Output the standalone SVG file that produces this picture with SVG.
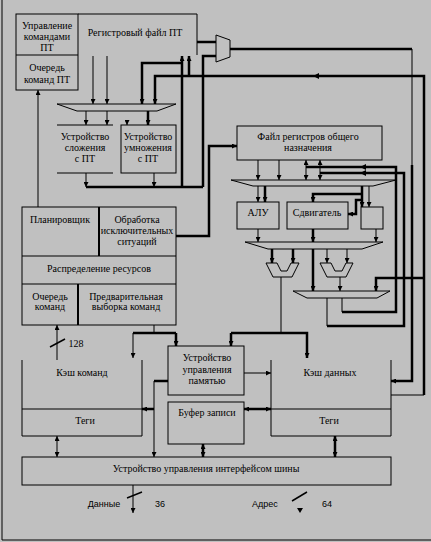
<svg xmlns="http://www.w3.org/2000/svg" width="431" height="542" viewBox="0 0 431 542">
<style>
.b{fill:none;stroke:#000;stroke-width:1}
.t{fill:none;stroke:#000;stroke-width:1}
.k{fill:none;stroke:#000;stroke-width:2.5}
.a{marker-end:url(#ah)}
.d{marker-start:url(#ah);marker-end:url(#ah)}
text{font-family:"Liberation Serif","Times New Roman",serif;font-size:10px;text-anchor:middle;fill:#000}
.s{font-size:9px;font-family:"Liberation Sans",Arial,sans-serif}
</style>
<defs>
<marker id="ah" viewBox="0 0 6 6" refX="6" refY="3" markerWidth="5" markerHeight="5" markerUnits="userSpaceOnUse" orient="auto-start-reverse"><path d="M0,0 L6,3 L0,6 z" fill="#000"/></marker>
</defs>
<rect width="431" height="542" fill="#c0c0c0"/>
<path class="t" d="M2,0 V540 H431"/>

<g id="fp-control">
<rect class="b" x="16" y="14" width="62" height="76"/>
<line class="b" x1="16" y1="55" x2="78" y2="55"/>
<text x="47" y="29">Управление</text>
<text x="47" y="40">командами</text>
<text x="47" y="51">ПТ</text>
<text x="47" y="71">Очередь</text>
<text x="47" y="83">команд ПТ</text>
</g>
<g id="fp-regfile">
<path class="b" d="M78,14 H197 V55"/>
<text x="135" y="36">Регистровый файл ПТ</text>
</g>
<g id="fp-mux">
<polygon class="b" points="216,35 230,40 230,57 216,62"/>
</g>
<g id="fp-bus">
<polygon class="b" points="57,104 176,104 157,111 77,111"/>
</g>
<g id="fp-adder">
<line class="b" x1="57" y1="125" x2="113" y2="125"/>
<line class="b" x1="57" y1="173" x2="113" y2="173"/>
<text x="85" y="140">Устройство</text>
<text x="85" y="151">сложения</text>
<text x="85" y="162">с ПТ</text>
</g>
<g id="fp-multiplier">
<rect class="b" x="121" y="125" width="55" height="48"/>
<text x="148" y="140">Устройство</text>
<text x="148" y="151">умножения</text>
<text x="148" y="162">с ПТ</text>
</g>
<g id="gpr">
<rect class="b" x="237" y="126" width="145" height="34"/>
<text x="308" y="140">Файл регистров общего</text>
<text x="308" y="151">назначения</text>
</g>
<g id="bus1"><polygon class="b" points="231,180 396,180 373,186 253,186"/></g>
<g id="alu">
<rect class="b" x="237" y="202" width="42" height="27"/>
<text x="258" y="216">АЛУ</text>
</g>
<g id="shifter">
<rect class="b" x="287" y="202" width="61" height="27"/>
<text x="317" y="216">Сдвигатель</text>
</g>
<g id="small-unit"><rect class="b" x="361" y="207" width="22" height="22"/></g>
<g id="bus2"><polygon class="b" points="245,242 383,242 362,249 268,249"/></g>
<g id="mux1"><polygon class="b" points="266,263 277,263 281,271 287,271 291,263 299,263 292,277 273,277"/></g>
<g id="mux2"><polygon class="b" points="320,263 331,263 335,271 342,271 346,263 353,263 346,277 327,277"/></g>
<g id="bus3"><polygon class="b" points="293,291 390,291 377,298 307,298"/></g>
<g id="scheduler">
<rect class="b" x="22" y="207" width="154" height="118"/>
<line class="k" x1="99" y1="207" x2="99" y2="256" style="stroke-width:2"/>
<line class="b" x1="22" y1="256" x2="176" y2="256"/>
<line class="b" x1="22" y1="284" x2="176" y2="284"/>
<line class="k" x1="78" y1="284" x2="78" y2="325" style="stroke-width:2"/>
<text x="60" y="223">Планировщик</text>
<text x="137" y="223">Обработка</text>
<text x="137" y="234">исключительных</text>
<text x="137" y="245">ситуаций</text>
<text x="99" y="272">Распределение ресурсов</text>
<text x="50" y="300">Очередь</text>
<text x="50" y="310">команд</text>
<text x="126" y="300">Предварительная</text>
<text x="126" y="310">выборка команд</text>
</g>
<g id="icache">
<path class="b" d="M22,360 V436 H142 V360"/>
<line class="b" x1="22" y1="409" x2="142" y2="409"/>
<text x="82" y="376">Кэш команд</text>
<text x="85" y="424">Теги</text>
</g>
<g id="mmu">
<rect class="b" x="168" y="346" width="76" height="49"/>
<text x="207" y="361">Устройство</text>
<text x="207" y="373">управления</text>
<text x="207" y="384">памятью</text>
</g>
<g id="write-buffer">
<rect class="b" x="168" y="402" width="76" height="42"/>
<text x="207" y="416">Буфер записи</text>
</g>
<g id="dcache">
<path class="b" d="M271,360 V436 H391 V360"/>
<line class="b" x1="271" y1="409" x2="391" y2="409"/>
<text x="330" y="376">Кэш данных</text>
<text x="329" y="424">Теги</text>
</g>
<g id="biu">
<rect class="b" x="22" y="457" width="369" height="28"/>
<text x="206" y="472">Устройство управления интерфейсом шины</text>
</g>
<g id="labels">
<text x="76" y="347">128</text>
<text class="s" x="104" y="507">Данные</text>
<text class="s" x="160" y="507">36</text>
<text class="s" x="265" y="507">Адрес</text>
<text class="s" x="327" y="507">64</text>
</g>

<g id="connectors">
<!-- FP register file to FP bus -->
<line class="t a" x1="93" y1="56" x2="93" y2="104"/>
<line class="t a" x1="107" y1="56" x2="107" y2="104"/>
<!-- FP bus to units -->
<line class="t a" x1="86" y1="111" x2="86" y2="125"/>
<line class="t a" x1="107" y1="111" x2="107" y2="125"/>
<line class="k a" x1="148" y1="111" x2="148" y2="125"/>
<line class="t a" x1="127" y1="120" x2="127" y2="125"/>
<!-- units to result bus -->
<line class="t a" x1="86" y1="173" x2="86" y2="187"/>
<line class="t a" x1="154" y1="173" x2="154" y2="187"/>
<line class="k" x1="86" y1="187" x2="203" y2="187"/>
<line class="k a" x1="182" y1="187" x2="182" y2="56"/>
<path class="k a" d="M182,63 H142 V104"/>
<path class="k" d="M203,187 V56 H216"/>
<line class="k" x1="197" y1="42" x2="216" y2="42"/>
<!-- FP mux out to data cache -->
<path class="k" d="M230,49 H412"/>
<line class="t" x1="412" y1="49" x2="412" y2="166"/>
<path class="k a" d="M412,165 V381 H391"/>
<!-- data cache out -->
<line class="t" x1="391" y1="395" x2="424" y2="395"/>
<path class="k a" d="M424,395 V76 H155 V104"/>
<line class="k a" x1="189" y1="76" x2="189" y2="56"/>
<polygon points="313,76 319,73 319,79" fill="#000"/>
<path class="k a" d="M424,278 H376 V291"/>
<!-- scheduler to FP queue -->
<line class="t a" x1="38" y1="207" x2="38" y2="90"/>
<!-- exception to GPR -->
<path class="k a" d="M176,236 H209 V146 H237"/>
<!-- GPR to bus1 -->
<line class="t a" x1="258" y1="160" x2="258" y2="180"/>
<line class="t a" x1="279" y1="160" x2="279" y2="180"/>
<line class="t a" x1="306" y1="167" x2="306" y2="180"/>
<line class="t a" x1="320" y1="173" x2="320" y2="180"/>
<!-- write back to GPR -->
<line class="t" x1="342" y1="298" x2="342" y2="312"/>
<path class="k" d="M342,312 H396 V167 H306"/>
<line class="t a" x1="306" y1="167" x2="306" y2="160"/>
<line class="t" x1="327" y1="298" x2="327" y2="326"/>
<path class="k" d="M327,326 H404 V173 H320"/>
<line class="t a" x1="320" y1="173" x2="320" y2="160"/>
<polygon points="360,167 366,164 366,170" fill="#000"/>
<polygon points="360,173 366,170 366,176" fill="#000"/>
<!-- bus1 to ALU / shifter / small unit -->
<line class="t a" x1="258" y1="186" x2="258" y2="202"/>
<line class="k a" x1="265" y1="186" x2="265" y2="202"/>
<path class="k a" d="M362,194 H313 V202"/>
<line class="k a" x1="362" y1="186" x2="362" y2="207"/>
<line class="t a" x1="369" y1="186" x2="369" y2="207"/>
<path class="k a" d="M362,200 H356 V214 H348"/>
<!-- to bus2 -->
<line class="t a" x1="258" y1="229" x2="258" y2="242"/>
<line class="k a" x1="313" y1="229" x2="313" y2="242"/>
<line class="t a" x1="376" y1="229" x2="376" y2="242"/>
<!-- bus2 to muxes -->
<line class="k a" x1="272" y1="249" x2="272" y2="263"/>
<line class="k a" x1="293" y1="249" x2="293" y2="263"/>
<line class="t a" x1="327" y1="249" x2="327" y2="263"/>
<line class="t a" x1="347" y1="249" x2="347" y2="263"/>
<line class="k a" x1="313" y1="249" x2="313" y2="291"/>
<line class="t a" x1="340" y1="277" x2="340" y2="291"/>
<!-- mux1 to MMU and data cache -->
<line class="t" x1="281" y1="277" x2="281" y2="333"/>
<path class="k a" d="M231,333 V346"/>
<path class="k a" d="M231,333 H307 V358"/>
<!-- scheduler to MMU / icache -->
<line class="t" x1="154" y1="325" x2="154" y2="333"/>
<path class="k" d="M133,333 H176"/>
<line class="t a" x1="133" y1="333" x2="133" y2="358"/>
<line class="k a" x1="176" y1="333" x2="176" y2="346"/>
<!-- 128 -->
<line class="t a" x1="57" y1="360" x2="57" y2="325"/>
<line class="k" x1="50" y1="347" x2="65" y2="339" style="stroke-width:1.5"/>
<!-- MMU -->
<line class="t a" x1="244" y1="373" x2="271" y2="373"/>
<path class="k" d="M168,381 H154"/>
<line class="t a" x1="154" y1="381" x2="154" y2="457"/>
<line class="k a" x1="154" y1="409" x2="142" y2="409"/>
<line class="k d" x1="244" y1="409" x2="271" y2="409"/>
<line class="k d" x1="203" y1="444" x2="203" y2="457"/>
<line class="t d" x1="57" y1="436" x2="57" y2="457"/>
<line class="k d" x1="335" y1="436" x2="335" y2="457"/>
<!-- external bus -->
<line class="t a" x1="133" y1="485" x2="133" y2="513"/>
<line class="k" x1="127" y1="498" x2="142" y2="492" style="stroke-width:1.5"/>
<line class="k" x1="292" y1="501" x2="307" y2="492" style="stroke-width:1.5"/>
<polygon points="297,508 303,508 300,513" fill="#000"/>
</g>
</svg>
